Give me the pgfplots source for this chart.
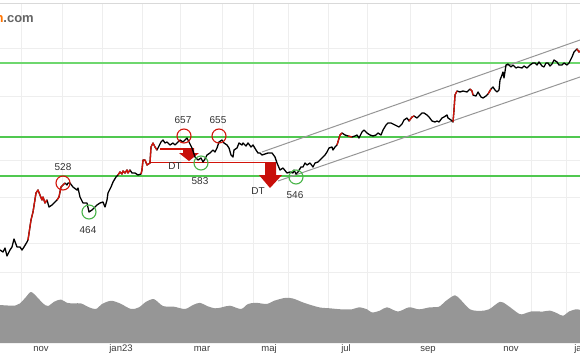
\documentclass[border=0pt]{standalone}
\usepackage{pgfplots}
\pgfplotsset{compat=1.18}
\usepackage{pgfplotstable}
\usepackage{fontspec}
\setmainfont{Liberation Sans}
\definecolor{gridc}{RGB}{238,238,238}
\definecolor{grn}{RGB}{80,200,80}
\definecolor{grnl}{RGB}{110,215,110}
\definecolor{rd}{RGB}{210,20,10}
\definecolor{arr}{RGB}{200,15,10}
\definecolor{volgray}{RGB}{150,150,150}
\definecolor{chan}{RGB}{150,150,150}
\definecolor{labc}{RGB}{50,50,50}
\definecolor{tickc}{RGB}{60,60,60}
\definecolor{wm}{RGB}{100,100,100}

\pgfplotstableread{
x y
0 110
3 108
5 112
7 104
10 110
12 113
14 121
17 113
20 113
22 110
24 113
27 118
28 120
31 140
33 148
36 167
38 170
40 165
42 160
43 163
45 157
47 160
49 153
52 155
55 158
57 160
59 163
61 173
63 175
65 177
67 175
68 177
70 177
73 173
77 170
78 172
80 163
83 157
85 157
87 157
89 148
92 150
94 152
97 155
100 157
103 158
105 153
107 160
108 167
111 173
113 178
116 183
118 185
120 188
122 186
123 189
125 187
127 190
128 187
130 190
132 187
135 187
138 185
141 186
142 190
143 200
145 200
147 195
150 197
151 213
153 217
155 213
157 210
158 212
161 218
163 220
165 217
167 218
170 215
173 217
175 215
177 217
180 220
183 218
187 222
189 218
192 212
195 203
198 200
201 202
203 198
205 201
207 205
210 207
213 210
215 208
217 212
219 218
222 220
224 217
227 215
229 212
231 205
233 203
234 210
237 212
239 217
242 215
243 217
246 214
248 217
251 213
253 215
256 210
258 207
260 207
262 205
265 206
268 207
272 207
275 203
277 197
280 190
283 192
287 187
290 188
293 187
294 190
296 186
298 188
301 193
303 193
305 197
307 195
310 197
313 193
315 197
318 198
322 202
325 205
327 208
329 212
332 213
333 210
335 213
337 215
340 225
342 227
345 225
348 224
352 223
355 224
357 225
359 222
362 228
364 230
367 227
370 225
373 224
376 225
378 227
381 225
383 230
386 235
388 237
391 237
393 236
397 234
399 233
402 236
404 240
407 242
409 239
412 243
414 244
417 242
419 244
422 247
424 247
427 245
429 243
432 239
435 238
437 239
439 238
442 242
444 243
447 245
448 242
451 240
453 238
454 250
455 265
457 269
460 268
463 269
467 268
470 271
472 269
473 265
476 264
478 268
481 263
483 262
486 264
488 266
491 271
493 273
495 270
497 268
499 270
500 280
502 285
503 288
504 282
506 295
508 296
511 293
513 295
516 292
518 293
522 292
524 294
527 292
530 295
533 297
535 297
537 295
539 298
542 294
544 293
546 297
548 297
550 294
552 296
554 300
557 298
559 295
562 295
564 297
567 295
569 297
572 303
574 308
577 311
579 308
580 309
}\price

\pgfplotstableread{
x y
0 55
15 54.3
20 56.6
26 63
31 68
37 63
43 56.6
48 54
54 58.2
61 60.5
67 57.2
74 56.6
81 56.6
89 52.7
96 51
102 56
111 59.2
120 56.6
131 51
139 52.7
146 58.2
154 60.8
163 54
174 53.3
185 51
193 55
200 57.2
207 54
215 51.7
222 52.7
230 54.3
241 51
248 56
256 57.2
267 56
274 59.2
285 62.1
293 61.5
304 57.2
319 52.7
330 51.7
341 50.7
352 50.7
359 52.7
367 50.7
372 47.5
380 49.4
387 52.7
398 48.5
409 52.7
419 50.7
430 52.7
439 53.3
446 59.2
455 64.7
461 59.8
470 50.7
480 49.1
489 50.7
500 58.2
507 55
519 46.2
524 46.2
531 48.5
543 48.5
550 49.4
557 46.8
563 44.2
569 48.5
576 50.7
580 50.1
}\volume

\begin{document}
\begin{tikzpicture}
\begin{axis}[
  scale only axis, width=580pt, height=340pt,
  xmin=0, xmax=580, ymin=17, ymax=357,
  axis line style={draw=none},
  xtick={41,121,202,269,346,428,511},
  xticklabels={nov,jan23,mar,maj,jul,sep,nov},
  ytick=\empty,
  major tick length=0pt,
  xticklabel style={font=\fontsize{9.5}{11}\selectfont, text=tickc, inner sep=0pt,
    text height=7pt, text depth=2pt, anchor=north, yshift=-1.5pt},
  extra x ticks={21,62,102,142,180,222,253,288,328,367,410,451,490,531,566},
  extra x tick labels={},
  extra x tick style={grid=major},
  extra y ticks={312,264,200,163,117,88},
  extra y tick labels={},
  extra y tick style={grid=major},
  major grid style={draw=gridc, line width=0.9pt},
]
% volume
\addplot[fill=volgray, draw=none, smooth, tension=0.5] table[x=x,y=y] {\volume} \closedcycle;
% support / resistance
\addplot[grnl, line width=1.1pt] coordinates {(0,297) (580,297)};
\addplot[grn, line width=1.4pt] coordinates {(0,223) (580,223)};
\addplot[grn, line width=1.4pt] coordinates {(0,184) (580,184)};
% trend channel
\addplot[chan, line width=1pt] coordinates {(262,208) (580,320)};
\addplot[chan, line width=1pt] coordinates {(278,179) (580,283)};
% double top lines
\addplot[rd, line width=1.8pt] coordinates {(160,211) (188,211)};
\addplot[rd, line width=1.8pt] coordinates {(150,197.5) (270,197.5)};
\fill[arr] (axis cs:183,212) -- (axis cs:194,212) -- (axis cs:194,207) -- (axis cs:199,207)
  -- (axis cs:189,199) -- (axis cs:179,207) -- (axis cs:183,207) -- cycle;
\fill[arr] (axis cs:265,198) -- (axis cs:276,198) -- (axis cs:276,185) -- (axis cs:282,185)
  -- (axis cs:270,172) -- (axis cs:259,185) -- (axis cs:265,185) -- cycle;
% price
\addplot[black, line width=1.3pt, line join=round] table[x=x,y=y] {\price};
\pgfplotsinvokeforeach{28:47,57:66,118:130,141:157,337:342,348:352,409:415,453:457,468:473,487:492,520:523,526:528,576:580}{
  \addplot[rd, line width=1.3pt, line join=round, restrict x to domain=#1] table[x=x,y=y] {\price};
}
% circles
\draw[rd, line width=1.1pt] (axis cs:63,177) circle[radius=7pt];
\draw[rd, line width=1.1pt] (axis cs:184,224) circle[radius=7pt];
\draw[rd, line width=1.1pt] (axis cs:219,224) circle[radius=7pt];
\draw[grn!90!black, line width=1.1pt] (axis cs:89,148) circle[radius=7pt];
\draw[grn!90!black, line width=1.1pt] (axis cs:201,197) circle[radius=7pt];
\draw[grn!90!black, line width=1.1pt] (axis cs:296,183) circle[radius=7pt];
% labels
\begin{scope}[every node/.style={font=\fontsize{10}{12}\selectfont, text=labc, inner sep=0pt}]
\node at (axis cs:63,193) {528};
\node at (axis cs:88,130) {464};
\node at (axis cs:183,240) {657};
\node at (axis cs:218,240) {655};
\node at (axis cs:200,179) {583};
\node at (axis cs:295,165) {546};
\node at (axis cs:175,194) {DT};
\node at (axis cs:258,169) {DT};
\end{scope}
% top border
\draw[gray!30, line width=1.2pt] (axis cs:0,357) -- (axis cs:580,357);
% watermark
\node[anchor=base east, inner sep=0pt, font=\fontsize{13}{15}\selectfont\bfseries, text=wm]
  at (axis cs:34,338) {\textcolor{orange!90!red}{n}.com};
\coordinate (bl) at (axis cs:0,0);
\coordinate (tr) at (axis cs:580,360);
\coordinate (j24) at (axis cs:586,17);
\end{axis}
\node[font=\fontsize{9.5}{11}\selectfont, text=tickc, inner sep=0pt, text height=7pt,
  text depth=2pt, anchor=north, yshift=-1.5pt] at (j24) {jan24};
\pgfresetboundingbox
\path (bl) rectangle (tr);
\end{tikzpicture}
\end{document}
